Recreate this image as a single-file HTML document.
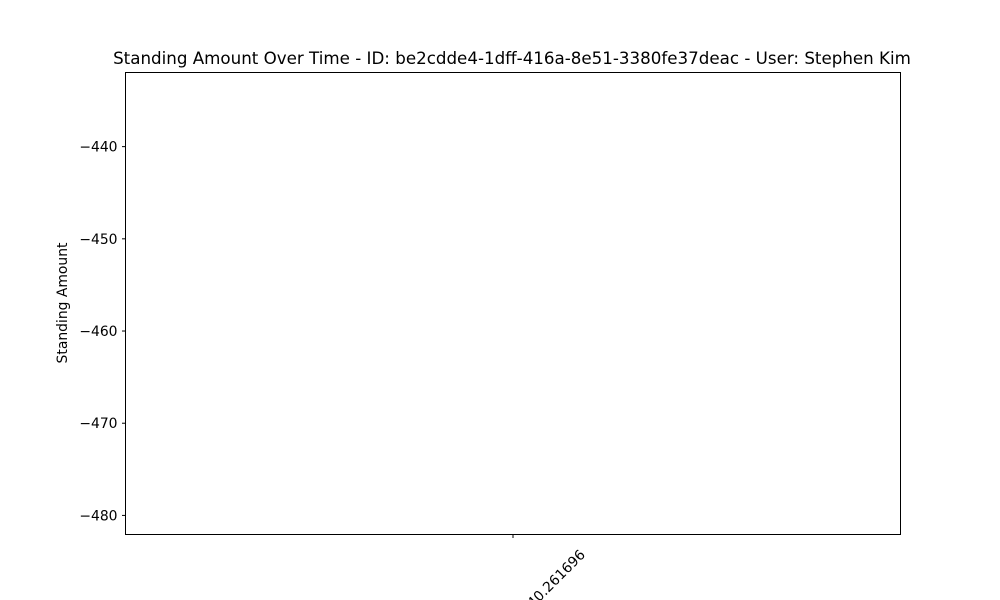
<!DOCTYPE html>
<html><head><meta charset="utf-8"><style>
html,body{margin:0;background:#fff;width:1000px;height:600px;overflow:hidden;}
svg{display:block;font-family:"DejaVu Sans","Liberation Sans",sans-serif;}
</style></head><body>
<svg id="chart" width="1000" height="600">
<text x="512" y="64" text-anchor="middle" font-size="16.7">Standing Amount Over Time - ID: be2cdde4-1dff-416a-8e51-3380fe37deac - User: Stephen Kim</text>
<text transform="translate(67,303) rotate(-90)" text-anchor="middle" font-size="13.9">Standing Amount</text>
<g id="yticks"></g>
<g id="xticks"></g>
<g id="series"></g>
<rect x="125.5" y="72.5" width="775" height="462" fill="none" stroke="#000" stroke-width="1"/>
</svg>
<script>
const categories = ["2023-10-10 12:34:40.261696"];
const values = [-457];
const yTicks = [-440, -450, -460, -470, -480];
const yMin = -482.07, yMax = -431.96;
const L = 125.5, R = 900.5, T = 72.5, B = 534.5;
const NS = "http://www.w3.org/2000/svg";
function y(v){ return T + (yMax - v) / (yMax - yMin) * (B - T); }
function x(i){ return categories.length === 1 ? (L + R) / 2 : L + (R - L) * (0.05 + 0.9 * i / (categories.length - 1)); }
const yg = document.getElementById('yticks');
yTicks.forEach(t => {
  const ln = document.createElementNS(NS, 'line');
  ln.setAttribute('x1', L - 3.5); ln.setAttribute('x2', L);
  ln.setAttribute('y1', y(t)); ln.setAttribute('y2', y(t));
  ln.setAttribute('stroke', '#000');
  
  
  yg.appendChild(ln);
  const tx = document.createElementNS(NS, 'text');
  tx.setAttribute('x', L - 8); tx.setAttribute('y', y(t) + 5);
  tx.setAttribute('text-anchor', 'end'); tx.setAttribute('font-size', '13.9');
  tx.textContent = '\u2212' + Math.abs(t);
  
  
  yg.appendChild(tx);
});
const xg = document.getElementById('xticks');
categories.forEach((c, i) => {
  const ln = document.createElementNS(NS, 'line');
  ln.setAttribute('x1', x(i)); ln.setAttribute('x2', x(i));
  ln.setAttribute('y1', B); ln.setAttribute('y2', B + 3.5);
  ln.setAttribute('stroke', '#000');
  
  
  xg.appendChild(ln);
  const tx = document.createElementNS(NS, 'text');
  tx.setAttribute('transform', 'translate(' + (x(i) + 73) + ',' + (B + 21) + ') rotate(-45)');
  tx.setAttribute('text-anchor', 'end'); tx.setAttribute('font-size', '13.9');
  tx.textContent = c;
  
  
  xg.appendChild(tx);
});
const sg = document.getElementById('series');
const pts = values.map((v, i) => x(i) + ',' + y(v)).join(' ');
const pl = document.createElementNS(NS, 'polyline');
pl.setAttribute('points', pts);
pl.setAttribute('fill', 'none'); pl.setAttribute('stroke', '#1f77b4'); pl.setAttribute('stroke-width', '1.5');


sg.appendChild(pl);
</script>
</body></html>
